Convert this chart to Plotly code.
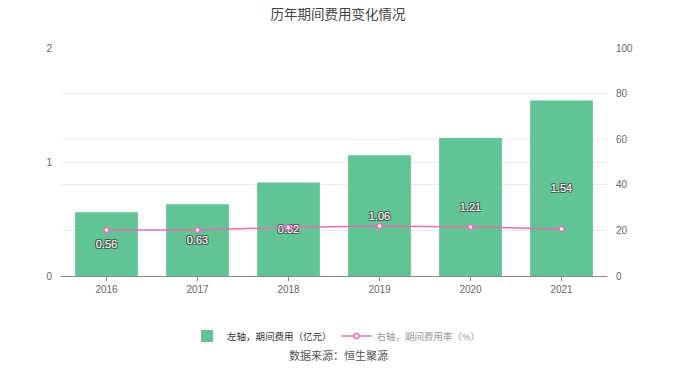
import plotly.graph_objects as go

years = ["2016", "2017", "2018", "2019", "2020", "2021"]
expense = [0.56, 0.63, 0.82, 1.06, 1.21, 1.54]
expense_rate = [20.2, 20.2, 21.3, 21.9, 21.5, 20.6]
expense_labels = ["0.56", "0.63", "0.82", "1.06", "1.21", "1.54"]

title = "历年期间费用变化情况"
bar_name = "左轴，期间费用（亿元）"
line_name = "右轴，期间费用率（%）"
source = "数据来源：恒生聚源"

FONT = "Liberation Sans, Noto Sans CJK SC, sans-serif"
GREEN = "#60c494"
PINK = "#e56fb4"
GRID = "#e8eaf2"

# page has an 8px body margin; figure coordinates = page coordinates - 8
OFF = 8
W, H = 672, 365
ML = 61 - OFF
MT = 48 - OFF
MR = W - (607 - OFF)
MB = H - (276 - OFF)
plot_h = H - MT - MB
plot_w = W - ML - MR


def px_x(page_x):
    return (page_x - OFF - ML) / plot_w


def px_y(page_y):
    return (H - MB - (page_y - OFF)) / plot_h


fig = go.Figure()
fig.add_trace(go.Bar(
    x=years, y=expense, name=bar_name,
    marker=dict(color=GREEN, line=dict(width=0)),
    text=expense_labels, textposition="inside", insidetextanchor="middle",
    textfont=dict(color="#ffffff", size=11, family=FONT,
                  shadow="1px 1px 0 #555, -1px -1px 0 #555, 1px -1px 0 #555, -1px 1px 0 #555"),
    width=0.69, yaxis="y", hoverinfo="skip",
))
fig.add_trace(go.Scatter(
    x=years, y=expense_rate, name=f'<span style="color:#9a9a9a">{line_name}</span>',
    mode="lines+markers", yaxis="y2",
    line=dict(color=PINK, width=1.5),
    marker=dict(symbol="circle", size=5, color="#ffffff", line=dict(color=PINK, width=1.5)),
    hoverinfo="skip",
))

fig.update_layout(
    width=W, height=H,
    margin=dict(l=ML, r=MR, t=MT, b=MB, autoexpand=False),
    paper_bgcolor="white", plot_bgcolor="white",
    font=dict(family=FONT, color="#666666", size=11),
    title=dict(text=title, x=(338 - OFF) / W, xanchor="center", y=1 - (14 - OFF) / H,
               yanchor="middle", font=dict(size=13.5, color="#444444", family=FONT)),
    showlegend=True,
    legend=dict(orientation="h", x=px_x(336), xanchor="center",
                y=px_y(336), yanchor="middle",
                font=dict(size=9.5, color="#333333", family=FONT),
                bgcolor="rgba(0,0,0,0)", itemwidth=30),
    bargap=0.31,
    xaxis=dict(type="category", showgrid=False, showline=True, linecolor="#888888", linewidth=1,
               ticks="outside", ticklen=4, tickcolor="#888888", automargin=False,
               tickfont=dict(size=10, color="#666666")),
    yaxis=dict(range=[0, 2], tickvals=[0, 1, 2], showgrid=True, gridcolor=GRID,
               zeroline=False, showline=False, tickfont=dict(size=10, color="#666666"),
               ticks="", ticklabelstandoff=8, automargin=False),
    yaxis2=dict(range=[0, 100], tickvals=[0, 20, 40, 60, 80, 100], overlaying="y", side="right",
                showgrid=True, gridcolor=GRID, zeroline=False, showline=False, automargin=False,
                tickfont=dict(size=10, color="#666666"), ticks="", ticklabelstandoff=8),
    annotations=[dict(text=source, x=px_x(338), xref="paper",
                      y=px_y(355), yref="paper", showarrow=False,
                      xanchor="center", yanchor="middle",
                      font=dict(size=11, color="#555555", family=FONT))],
)

fig.write_html("out.html")
